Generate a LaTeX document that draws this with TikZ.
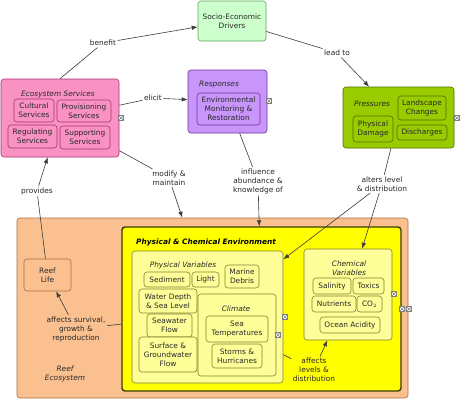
\documentclass[tikz,border=0pt]{standalone}
\usepackage{fontspec}
\setmainfont{DejaVu Sans}
\usetikzlibrary{shapes,arrows.meta,positioning}

\definecolor{drvfill}{RGB}{204,255,204}
\definecolor{drvline}{RGB}{90,165,90}
\definecolor{esfill}{RGB}{250,145,195}
\definecolor{esline}{RGB}{165,50,110}
\definecolor{rspfill}{RGB}{200,150,250}
\definecolor{rspline}{RGB}{110,50,160}
\definecolor{prsfill}{RGB}{153,204,0}
\definecolor{prsline}{RGB}{80,110,0}
\definecolor{reeffill}{RGB}{250,192,144}
\definecolor{reefline}{RGB}{170,110,70}
\definecolor{envfill}{RGB}{255,255,0}
\definecolor{envline}{RGB}{60,60,0}
\definecolor{varfill}{RGB}{255,255,153}
\definecolor{varline}{RGB}{130,130,50}
\definecolor{txtgray}{RGB}{40,40,40}
\definecolor{linkgray}{RGB}{60,60,60}

\newcommand{\cmapfont}{\fontsize{7.4}{9}\selectfont}

\begin{document}
\begin{tikzpicture}[x=1pt,y=-1pt,>={Latex[length=6pt,width=4.5pt]},
    concept/.style={draw, rectangle, rounded corners=3pt, align=center, inner sep=1pt, font=\cmapfont, text=txtgray, line width=0.6pt},
    title/.style={align=center, inner sep=0pt, font=\cmapfont\itshape, text=txtgray},
    lbl/.style={align=center, inner sep=1.5pt, font=\cmapfont, text=txtgray},
    link/.style={draw=linkgray, line width=0.6pt},
    icon/.style={draw=gray, fill=white, minimum size=5pt, inner sep=0pt,
      path picture={\draw[gray] (path picture bounding box.south west) -- (path picture bounding box.north east)
        (path picture bounding box.north west) -- (path picture bounding box.south east);}}]
    \useasboundingbox[fill=white] (0,0) rectangle (461,400);

    % top concepts
    \node[concept, fill=drvfill, draw=drvline, minimum width=68pt, minimum height=40pt] (drivers) at (232,21) {Socio-Economic\\Drivers};

    \node[concept, fill=esfill, draw=esline, minimum width=118pt, minimum height=78pt] (ecoserv) at (60,118) {};
    \node[title] (ecotitle) at (58,94) {Ecosystem Services};
    \node[concept, fill=esfill, draw=esline, minimum width=40pt, minimum height=23pt] (cultural) at (34,110.5) {Cultural\\Services};
    \node[concept, fill=esfill, draw=esline, minimum width=54pt, minimum height=22pt] (provisioning) at (84,111) {Provisioning\\Services};
    \node[concept, fill=esfill, draw=esline, minimum width=49pt, minimum height=23pt] (regulating) at (32.5,136.5) {Regulating\\Services};
    \node[concept, fill=esfill, draw=esline, minimum width=50pt, minimum height=23pt] (supporting) at (85,137.5) {Supporting\\Services};

    \node[concept, fill=rspfill, draw=rspline, minimum width=79pt, minimum height=63pt] (responses) at (227.5,101.5) {};
    \node[title] (rsptitle) at (219,85) {Responses};
    \node[concept, fill=rspfill, draw=rspline, minimum width=63pt, minimum height=32pt] (monitoring) at (228.5,109) {Environmental\\Monitoring \&\\Restoration};

    \node[concept, fill=prsfill, draw=prsline, minimum width=111pt, minimum height=61pt] (pressures) at (398.5,117.5) {};
    \node[title] (prstitle) at (372,104) {Pressures};
    \node[concept, fill=prsfill, draw=prsline, minimum width=48pt, minimum height=24pt] (landscape) at (422,108) {Landscape\\Changes};
    \node[concept, fill=prsfill, draw=prsline, minimum width=40pt, minimum height=26pt] (damage) at (373,129) {Physical\\Damage};
    \node[concept, fill=prsfill, draw=prsline, minimum width=50pt, minimum height=15pt] (discharges) at (422,132.5) {Discharges};

    % reef ecosystem
    \node[concept, fill=reeffill, draw=reefline, minimum width=391pt, minimum height=180pt] (reef) at (212.5,308) {};
    \node[title] (reeftitle) at (65,374) {Reef\\Ecosystem};
    \node[concept, fill=reeffill, draw=reefline, minimum width=47pt, minimum height=32pt] (reeflife) at (47.5,275) {Reef\\Life};

    \node[concept, fill=envfill, draw=envline, line width=1.4pt, minimum width=279pt, minimum height=164pt] (physchem) at (261.5,309) {};
    \node[title, font=\cmapfont\bfseries\itshape, text=black] (envtitle) at (206,242) {Physical \& Chemical Environment};

    \node[concept, fill=varfill, draw=varline, minimum width=151pt, minimum height=132pt] (physvar) at (207.5,317) {};
    \node[title] (pvtitle) at (183,265) {Physical Variables};
    \node[concept, fill=varfill, draw=varline, minimum width=46pt, minimum height=15pt] (sediment) at (167,279.5) {Sediment};
    \node[concept, fill=varfill, draw=varline, minimum width=27pt, minimum height=15pt] (light) at (205.5,279.5) {Light};
    \node[concept, fill=varfill, draw=varline, minimum width=34pt, minimum height=23pt] (debris) at (242,276.5) {Marine\\Debris};
    \node[concept, fill=varfill, draw=varline, minimum width=58pt, minimum height=24pt] (depth) at (168,301) {Water Depth\\\& Sea Level};
    \node[concept, fill=varfill, draw=varline, minimum width=45pt, minimum height=23pt] (seawater) at (169.5,325.5) {Seawater\\Flow};
    \node[concept, fill=varfill, draw=varline, minimum width=58pt, minimum height=35pt] (surface) at (168,354.5) {Surface \&\\Groundwater\\Flow};

    \node[concept, fill=varfill, draw=varline, minimum width=78pt, minimum height=82pt] (climate) at (237,335) {};
    \node[title] (cltitle) at (236,309) {Climate};
    \node[concept, fill=varfill, draw=varline, minimum width=62pt, minimum height=26pt] (seatemp) at (237,329) {Sea\\Temperatures};
    \node[concept, fill=varfill, draw=varline, minimum width=50pt, minimum height=24pt] (storms) at (237,356) {Storms \&\\Hurricanes};

    \node[concept, fill=varfill, draw=varline, minimum width=88pt, minimum height=91pt] (chemvar) at (348,294.5) {};
    \node[title] (cvtitle) at (349,268) {Chemical\\Variables};
    \node[concept, fill=varfill, draw=varline, minimum width=38pt, minimum height=16pt] (salinity) at (332,286) {Salinity};
    \node[concept, fill=varfill, draw=varline, minimum width=31pt, minimum height=16pt] (toxics) at (368.5,286) {Toxics};
    \node[concept, fill=varfill, draw=varline, minimum width=44pt, minimum height=16pt] (nutrients) at (334,304) {Nutrients};
    \node[concept, fill=varfill, draw=varline, minimum width=25pt, minimum height=16pt] (co2) at (369.5,304) {CO$_2$};
    \node[concept, fill=varfill, draw=varline, minimum width=60pt, minimum height=16pt] (acidity) at (350,325) {Ocean Acidity};

    % collapse icons
    \node[icon] (icoeco) at (121,118) {};
    \node[icon] (icorsp) at (269,101) {};
    \node[icon] (icoprs) at (457,118) {};
    \node[icon] (icopv) at (285,317) {};
    \node[icon] (icocl) at (278,335) {};
    \node[icon] (icocv) at (394,294) {};
    \node[icon] (icoenv) at (402,309) {};
    \node[icon] (icoreef) at (409,309) {};

    % link labels
    \node[lbl] (lblbenefit) at (103,43) {benefit};
    \node[lbl] (lblleadto) at (337,53) {lead to};
    \node[lbl] (lblelicit) at (153,98) {elicit};
    \node[lbl] (lblmodify) at (169,178) {modify \&\\maintain};
    \node[lbl] (lblprovides) at (37,191) {provides};
    \node[lbl] (lblinfluence) at (258,181) {influence\\abundance \&\\knowledge of};
    \node[lbl] (lblalters) at (382,184) {alters level\\\& distribution};
    \node[lbl] (lblsurvival) at (76,329) {affects survival,\\growth \&\\reproduction};
    \node[lbl] (lbllevels) at (314,370) {affects\\levels \&\\distribution};

    % links
    \draw[link] (ecoserv.north) -- (lblbenefit);
    \draw[link, ->] (lblbenefit) -- (drivers);
    \draw[link] (drivers) -- (lblleadto);
    \draw[link, ->] (lblleadto) -- (pressures);
    \draw[link] (ecoserv) -- (lblelicit);
    \draw[link, ->] (lblelicit) -- (responses);
    \draw[link] (ecoserv) -- (lblmodify);
    \draw[link, ->] (lblmodify) -- (reef);
    \draw[link] (reeflife) -- (lblprovides);
    \draw[link, ->] (lblprovides) -- (ecoserv);
    \draw[link] (responses) -- (lblinfluence);
    \draw[link, ->] (lblinfluence) -- (physchem);
    \draw[link] (pressures) -- (lblalters);
    \draw[link, ->] (lblalters) -- (physvar);
    \draw[link, ->] (lblalters) -- (chemvar);
    \draw[link] (physchem) -- (lblsurvival);
    \draw[link, ->] (lblsurvival) -- (reeflife);
    \draw[link] (physvar) -- (lbllevels);
    \draw[link, ->] (lbllevels) -- (chemvar);
\end{tikzpicture}
\end{document}
